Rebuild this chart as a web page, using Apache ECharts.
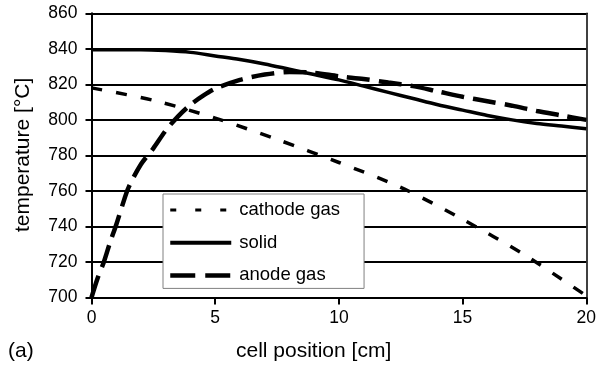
<!DOCTYPE html>
<html>
<head>
<meta charset="utf-8">
<script src="https://cdn.jsdelivr.net/npm/echarts@6/dist/echarts.min.js"></script>
<style>
  html, body { margin: 0; padding: 0; background: #fff; }
  #chart { width: 599px; height: 369px; }
</style>
</head>
<body>
<div id="chart"></div>
<script>
// Temperature profiles along the cell (position in cm, temperature in °C)
const cathodeX = [0, 2.5, 5, 7.5, 10, 12.5, 15, 17.5, 20];
const cathodeT = [818, 811, 801, 789, 776, 762, 744, 724, 701];

const solidX = [0, 1, 2, 3, 4, 5, 6, 7, 8, 9, 10, 11, 12, 13, 14, 15, 16, 17, 18, 19, 20];
const solidT = [839.5, 839.5, 839.5, 839, 838, 836, 834, 831.5, 828.5, 825.5, 822.5, 819, 815.5, 812, 808.5, 805.5, 802.5, 800, 798, 796.5, 795];

const anodeX = [0, 0.25, 0.5, 0.75, 1, 1.25, 1.5, 2, 2.5, 3, 3.5, 4, 4.5, 5, 6, 7, 8, 9, 10, 11, 12, 13, 14, 15, 16, 17, 18, 19, 20];
const anodeT = [700, 711, 720, 731, 741, 752, 762, 775, 784, 794, 802, 808.5, 813.5, 817.5, 822.5, 825.5, 827, 826.5, 824.5, 823, 821, 819, 816, 813, 810.5, 808, 805, 802.5, 800];

const seriesNames = ['cathode gas', 'solid', 'anode gas'];
const xTicks = { min: 0, max: 20, step: 5 };
const yTicks = { min: 700, max: 860, step: 20 };

const pairs = (xs, ys) => xs.map((x, i) => [x, ys[i]]);

const FONT = 'Liberation Sans, Arial, Helvetica, sans-serif';

const chart = echarts.init(document.getElementById('chart'), null, { renderer: 'canvas' });

chart.setOption({
  backgroundColor: '#ffffff',
  animation: false,
  grid: { left: 91.5, right: 12, top: 13.3, bottom: 71.5, containLabel: false },
  xAxis: {
    type: 'value',
    min: xTicks.min, max: xTicks.max, interval: xTicks.step,
    axisLine: { show: true, onZero: false, lineStyle: { color: '#000', width: 2 } },
    axisTick: { show: true, length: 7, lineStyle: { color: '#000', width: 2 } },
    axisLabel: { color: '#000', fontFamily: FONT, fontSize: 17.5, margin: 12 },
    splitLine: { show: false }
  },
  yAxis: [{
    type: 'value',
    min: yTicks.min, max: yTicks.max, interval: yTicks.step,
    axisLine: { show: true, lineStyle: { color: '#000', width: 2 } },
    axisTick: { show: true, length: 6, lineStyle: { color: '#000', width: 2 } },
    axisLabel: { color: '#000', fontFamily: FONT, fontSize: 17.5, margin: 14 },
    splitLine: { show: true, lineStyle: { color: '#000', width: 2 } }
  }, {
    type: 'value', position: 'right',
    min: yTicks.min, max: yTicks.max, interval: yTicks.step,
    axisLine: { show: true, lineStyle: { color: '#000', width: 1.5 } },
    axisTick: { show: false }, axisLabel: { show: false }, splitLine: { show: false }
  }],
  legend: {
    orient: 'vertical',
    left: 163, top: 194,
    padding: [6, 24, 3, 5],
    backgroundColor: '#fff',
    borderColor: '#808080', borderWidth: 1, borderRadius: 0,
    itemWidth: 61, itemHeight: 14, itemGap: 12.7,
    textStyle: { color: '#000', fontFamily: FONT, fontSize: 18.5, lineHeight: 20, padding: [0, 0, 0, 3] },
    itemStyle: { color: 'rgba(0,0,0,0)', borderWidth: 0, opacity: 0 },
    data: [
      { name: seriesNames[0], lineStyle: { width: 3, type: [6, 19], color: '#000' } },
      { name: seriesNames[1], lineStyle: { width: 4, type: 'solid', color: '#000' } },
      { name: seriesNames[2], lineStyle: { width: 4.5, type: [25, 10], color: '#000' } }
    ]
  },
  graphic: [
    { type: 'text', left: 236, top: 341, style: { text: 'cell position [cm]', fill: '#000', font: '21px ' + FONT } },
    { type: 'text', left: 8, top: 341, style: { text: '(a)', fill: '#000', font: '21px ' + FONT } },
    { type: 'text', x: 13, y: 232, rotation: Math.PI / 2,
      style: { text: 'temperature [°C]', fill: '#000', font: '21px ' + FONT, textAlign: 'left', textVerticalAlign: 'top' } }
  ],
  series: [
    { name: seriesNames[0], type: 'line', data: pairs(cathodeX, cathodeT), symbol: 'none', smooth: 0.3,
      lineStyle: { color: '#000', width: 3.5, type: [11, 14] }, z: 3 },
    { name: seriesNames[1], type: 'line', data: pairs(solidX, solidT), symbol: 'none', smooth: 0.3,
      lineStyle: { color: '#000', width: 3.5, type: 'solid' }, z: 3 },
    { name: seriesNames[2], type: 'line', data: pairs(anodeX, anodeT), symbol: 'none', smooth: 0.3,
      lineStyle: { color: '#000', width: 4.5, type: [23, 9] }, z: 3 }
  ]
});
</script>
</body>
</html>
